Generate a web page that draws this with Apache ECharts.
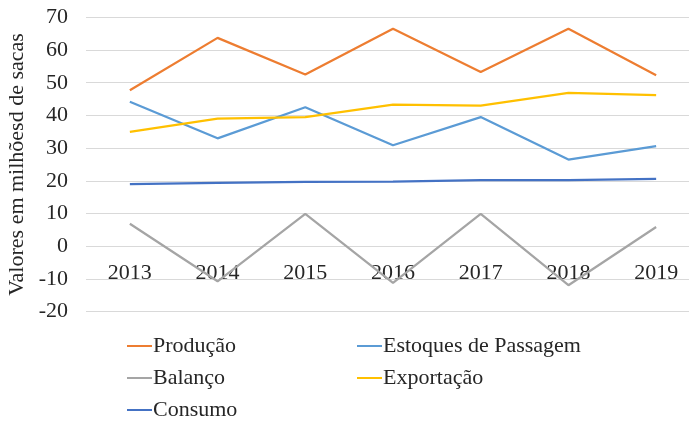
<!DOCTYPE html>
<html>
<head>
<meta charset="utf-8">
<script src="https://cdn.jsdelivr.net/npm/echarts@6/dist/echarts.min.js"></script>
<style>
  html, body { margin: 0; padding: 0; background: #fff; }
  #chart { width: 689px; height: 421px; }
</style>
</head>
<body>
<div id="chart"></div>
<script>
// Safra de café: valores anuais em milhões de sacas
const anos = ['2013', '2014', '2015', '2016', '2017', '2018', '2019'];
const producao = [47.7, 63.7, 52.5, 66.5, 53.3, 66.5, 52.3];
const estoques = [44.2, 33.0, 42.5, 30.9, 39.5, 26.5, 30.6];
const balanco = [6.9, -10.7, 9.9, -11.2, 9.9, -11.9, 5.9];
const exportacao = [35.0, 39.0, 39.5, 43.3, 43.0, 46.9, 46.2];
const consumo = [19.0, 19.4, 19.7, 19.8, 20.2, 20.2, 20.6];

const nomes = ['Produção', 'Estoques de Passagem', 'Balanço', 'Exportação', 'Consumo'];
const cores = ['#ED7D31', '#5B9BD5', '#A5A5A5', '#FFC000', '#4472C4'];
const valores = [producao, estoques, balanco, exportacao, consumo];

const fonte = '"Liberation Serif", "Times New Roman", serif';
const corTexto = '#262626';
const tamanho = 22;

// plot area geometry (px)
const gridTop = 17.3;
const gridHeight = 294.4;
const yMin = -20, yMax = 70;
// shift the category axis up so its labels sit just under the zero line
const zeroOffset = gridHeight * (0 - yMin) / (yMax - yMin);

const legendaBase = {
  orient: 'vertical',
  icon: 'rect',
  itemWidth: 25,
  itemHeight: 2,
  itemGap: 10,
  padding: 0,
  height: 100,
  selectedMode: false,
  textStyle: {
    fontFamily: fonte, fontSize: tamanho, color: corTexto,
    padding: [0, 0, 0, -4], lineHeight: tamanho
  }
};

const chart = echarts.init(document.getElementById('chart'));
chart.setOption({
  backgroundColor: '#fff',
  animation: false,
  grid: { left: 86, width: 614, top: gridTop, height: gridHeight, outerBoundsMode: 'none', containLabel: false },
  legend: [
    Object.assign({}, legendaBase, { left: 127, top: 335, data: ['Produção', 'Balanço', 'Consumo'] }),
    Object.assign({}, legendaBase, { left: 357, top: 335, data: ['Estoques de Passagem', 'Exportação'] })
  ],
  xAxis: {
    type: 'category',
    data: anos,
    boundaryGap: true,
    offset: -zeroOffset,
    axisLine: { show: false, onZero: false },
    axisTick: { show: false },
    axisLabel: { fontFamily: fonte, fontSize: tamanho, color: corTexto, margin: 16 }
  },
  yAxis: {
    type: 'value',
    min: yMin, max: yMax, interval: 10,
    name: 'Valores em milhõesd de sacas',
    nameLocation: 'middle',
    nameRotate: 90,
    nameGap: 47,
    nameTextStyle: { fontFamily: fonte, fontSize: tamanho, color: corTexto },
    axisLine: { show: false },
    axisTick: { show: false },
    axisLabel: { fontFamily: fonte, fontSize: tamanho, color: corTexto, margin: 18 },
    splitLine: { lineStyle: { color: '#D9D9D9', width: 1 } }
  },
  series: nomes.map((n, i) => ({
    name: n,
    type: 'line',
    data: valores[i],
    symbol: 'none',
    lineStyle: { color: cores[i], width: 2.25 },
    itemStyle: { color: cores[i] },
    z: 2
  }))
});
</script>
</body>
</html>
